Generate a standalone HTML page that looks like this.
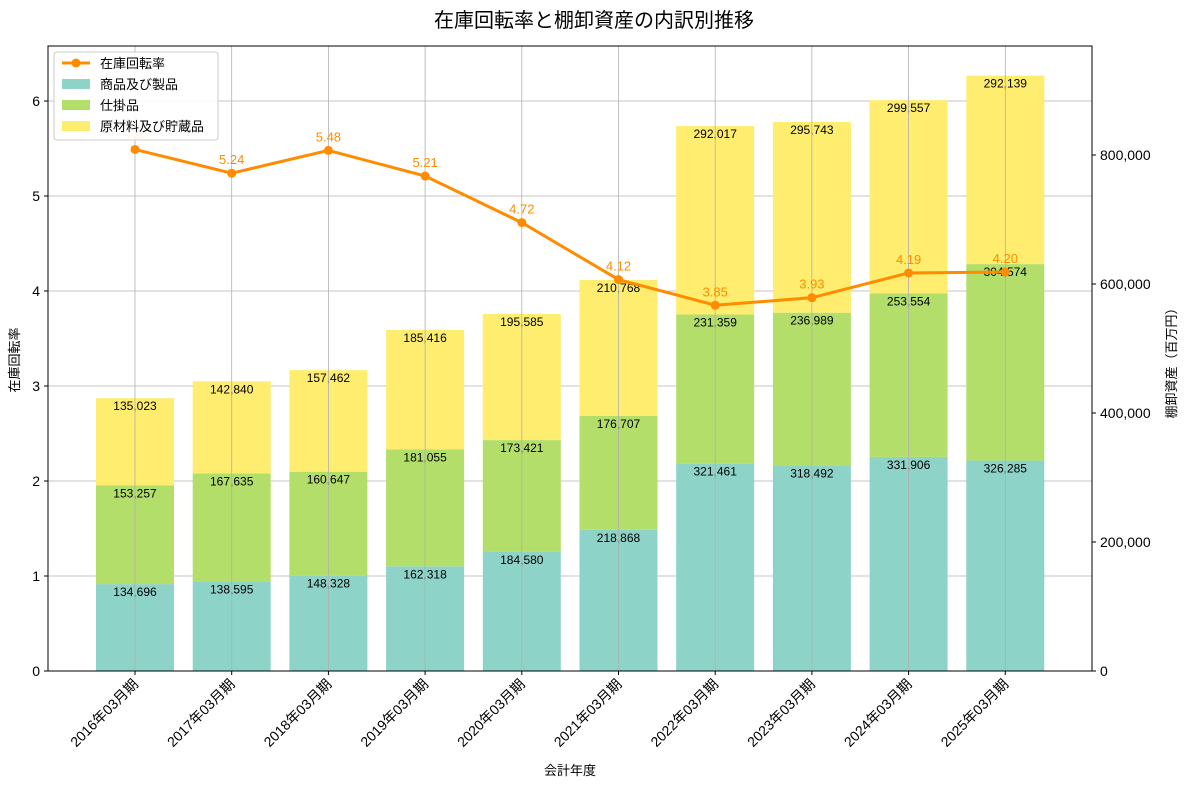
<!DOCTYPE html>
<html><head><meta charset="utf-8"><style>
body{margin:0;background:#fff;font-family:"Liberation Sans","Noto Sans CJK JP",sans-serif;}
</style></head><body>
<svg id="c" width="1189" height="789" xmlns="http://www.w3.org/2000/svg" font-family="Liberation Sans, Noto Sans CJK JP, sans-serif"></svg>
<script>
const categories=["2016年03月期","2017年03月期","2018年03月期","2019年03月期","2020年03月期","2021年03月期","2022年03月期","2023年03月期","2024年03月期","2025年03月期"];
const goods=[134696,138595,148328,162318,184580,218868,321461,318492,331906,326285];
const wip=[153257,167635,160647,181055,173421,176707,231359,236989,253554,304574];
const raw=[135023,142840,157462,185416,195585,210768,292017,295743,299557,292139];
const turnover=[5.49,5.24,5.48,5.21,4.72,4.12,3.85,3.93,4.19,4.20];
const leftTicks=[0,1,2,3,4,5,6];
const rightTicks=[0,200000,400000,600000,800000];

const NS="http://www.w3.org/2000/svg";
const svg=document.getElementById('c');
const L=48,R=1092,T=46,B=671;
const yL=v=>B-v*95;
const yR=v=>B-v*(129/200000);
const step=96.7, x0=135;
const xC=i=>x0+i*step;
const bw=78;
function el(t,a,p){const e=document.createElementNS(NS,t);for(const k in a)e.setAttribute(k,a[k]);(p||svg).appendChild(e);return e;}
function fmt(v){return v.toLocaleString('en-US');}

// grid
leftTicks.forEach(v=>{const g=el('line',{x1:L,x2:R,y1:yL(v),y2:yL(v),stroke:'#b0b0b0','stroke-width':0.8});
});
// bars
const series=[[goods,'#8dd3c7','goods'],[wip,'#b3de69','wip'],[raw,'#ffed6f','raw']];
categories.forEach((c,i)=>{let base=0;
 series.forEach(([arr,col,nm])=>{const v=arr[i];const top=base+v;
  const r=el('rect',{x:xC(i)-bw/2,y:yR(top),width:bw,height:yR(base)-yR(top),fill:col});
  
  const t=el('text',{x:xC(i),y:yR(top)+12,'font-size':12,'text-anchor':'middle',fill:'#000'});t.textContent=fmt(v);
  
  base=top;});
});
// vertical grid on top of bars
categories.forEach((c,i)=>{const g=el('line',{x1:xC(i),x2:xC(i),y1:T,y2:B,stroke:'#b0b0b0','stroke-width':0.8});
});
// line
const pts=turnover.map((v,i)=>xC(i)+','+yL(v)).join(' ');
const pl=el('polyline',{points:pts,fill:'none',stroke:'#ff8c00','stroke-width':3});

turnover.forEach((v,i)=>{const c=el('circle',{cx:xC(i),cy:yL(v),r:4.5,fill:'#ff8c00'});
 
 const t=el('text',{x:xC(i),y:yL(v)-9,'font-size':13,'text-anchor':'middle',fill:'#ff8c00'});t.textContent=v.toFixed(2);
 });
// frame
const f=el('rect',{x:L,y:T,width:R-L,height:B-T,fill:'none',stroke:'#000','stroke-width':1});

// left ticks
leftTicks.forEach(v=>{el('line',{x1:L-4,x2:L,y1:yL(v),y2:yL(v),stroke:'#000'});
 const t=el('text',{x:L-8,y:yL(v)+5,'font-size':14,'text-anchor':'end'});t.textContent=v;
 });
rightTicks.forEach(v=>{el('line',{x1:R,x2:R+4,y1:yR(v),y2:yR(v),stroke:'#000'});
 const t=el('text',{x:R+8,y:yR(v)+5,'font-size':14});t.textContent=fmt(v);
 });
categories.forEach((c,i)=>{el('line',{x1:xC(i),x2:xC(i),y1:B,y2:B+4,stroke:'#000'});
 const t=el('text',{x:xC(i)+4,y:B+14,'font-size':14,'text-anchor':'end',transform:`rotate(-45 ${xC(i)+4} ${B+14})`});t.textContent=c;
 });
// titles
let t=el('text',{x:594,y:27,'font-size':20,'text-anchor':'middle'});t.textContent='在庫回転率と棚卸資産の内訳別推移';

t=el('text',{x:570,y:775,'font-size':13,'text-anchor':'middle'});t.textContent='会計年度';

t=el('text',{x:19,y:360,'font-size':13,'text-anchor':'middle',transform:'rotate(-90 19 360)'});t.textContent='在庫回転率';

t=el('text',{x:1176,y:360,'font-size':13,'text-anchor':'middle',transform:'rotate(-90 1176 360)'});t.textContent='棚卸資産（百万円）';

// legend
const lg=el('g',{});
el('rect',{x:54,y:52,width:164,height:88,fill:'#fff','fill-opacity':0.9,stroke:'#ccc',rx:3},lg);
el('line',{x1:62,x2:90,y1:63,y2:63,stroke:'#ff8c00','stroke-width':3},lg);
el('circle',{cx:76,cy:63,r:4.5,fill:'#ff8c00'},lg);
const items=[['在庫回転率',null],['商品及び製品','#8dd3c7'],['仕掛品','#b3de69'],['原材料及び貯蔵品','#ffed6f']];
items.forEach(([n,col],k)=>{const y=63+k*21;
 if(col)el('rect',{x:62,y:y-5,width:28,height:10,fill:col},lg);
 const tt=el('text',{x:100,y:y+5,'font-size':13},lg);tt.textContent=n;
 });
</script>
</body></html>
